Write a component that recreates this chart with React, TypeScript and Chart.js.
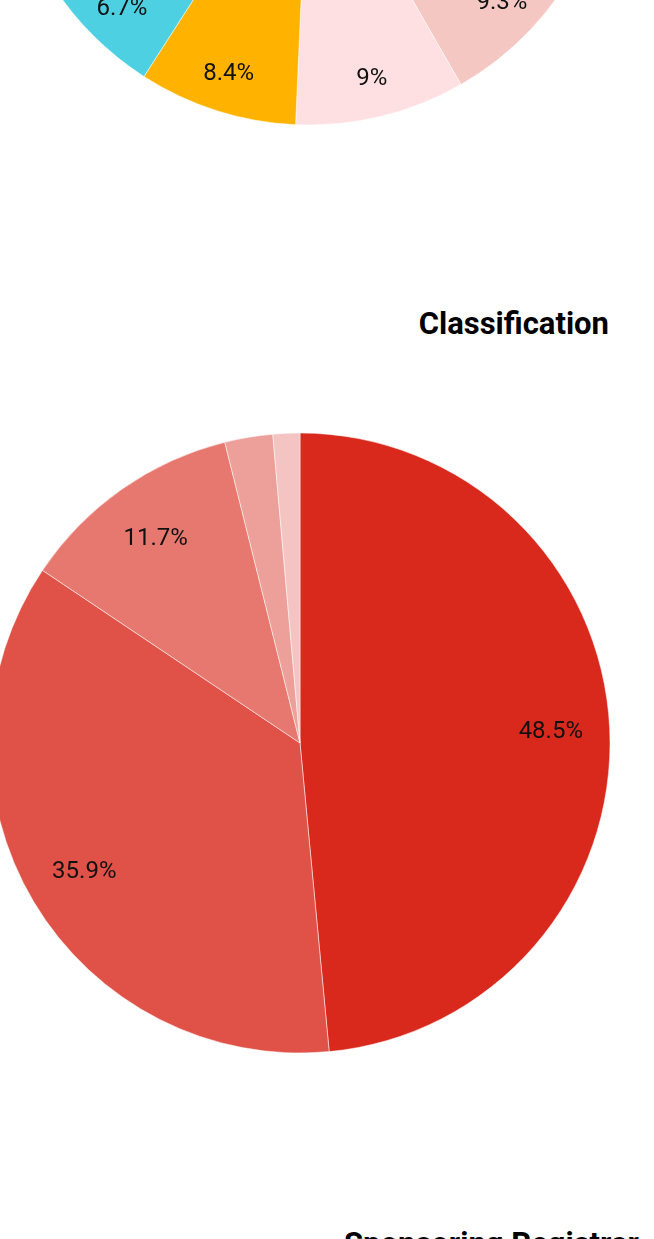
import React, { useEffect, useRef } from "react";
import { Chart, registerables } from "chart.js";

Chart.register(...registerables);

// ---- Data ----
const topCategories = ["United States", "Germany", "United Kingdom", "France", "Canada", "Netherlands", "Japan", "China", "India", "Other"];
const topValues = [14.0, 10.4, 8.0, 9.3, 9.0, 8.4, 6.7, 12.5, 11.2, 10.5];
const topColors = ["#4285F4", "#0F9D58", "#AB47BC", "#F4C7C3", "#FFE0E2", "#FFB300", "#4DD0E1", "#DB4437", "#7986CB", "#9E9E9E"];

const classTitle = "Classification";
const classCategories = ["Registered", "Parked", "Expired", "Reserved", "Other"];
const classValues = [48.5, 35.9, 11.7, 2.5, 1.4];
const classColors = ["#D9291D", "#E05248", "#E77870", "#EDA09A", "#F3C4C1"];

const nextTitle = "Sponsoring Registrar";

const pctLabels = {
  id: "pctLabels",
  afterDatasetsDraw(chart: any, _args: any, opts: any) {
    const ctx = chart.ctx;
    const meta = chart.getDatasetMeta(0);
    const data = chart.data.datasets[0].data as number[];
    ctx.save();
    ctx.font = `${opts.size || 22}px Roboto`;
    ctx.fillStyle = "#111";
    ctx.textAlign = "center";
    ctx.textBaseline = "middle";
    meta.data.forEach((arc: any, i: number) => {
      const v = data[i];
      if (v < (opts.min ?? 5)) return;
      const p = arc.getProps(["x", "y", "startAngle", "endAngle", "outerRadius"], true);
      const mid = (p.startAngle + p.endAngle) / 2;
      const r = p.outerRadius * (opts.frac ?? 0.81);
      ctx.fillText(`${v}%`, p.x + Math.cos(mid) * r, p.y + Math.sin(mid) * r + 1);
    });
    ctx.restore();
  },
};

function PieChart(props: {
  labels: string[];
  values: number[];
  colors: string[];
  radius: number;
  frac: number;
  style: React.CSSProperties;
}) {
  const ref = useRef<HTMLCanvasElement | null>(null);
  useEffect(() => {
    if (!ref.current) return;
    const chart = new Chart(ref.current, {
      type: "pie",
      data: {
        labels: props.labels,
        datasets: [
          {
            data: props.values,
            backgroundColor: props.colors,
            borderColor: "#ffffff",
            borderWidth: 0.5,
          },
        ],
      },
      options: {
        animation: false,
        responsive: true,
        maintainAspectRatio: false,
        radius: props.radius,
        layout: { padding: 0 },
        plugins: {
          legend: { display: false },
          tooltip: { enabled: false },
          title: { display: false },
          pctLabels: { frac: props.frac, size: 24, min: 5 },
        } as any,
      },
      plugins: [pctLabels],
    });
    return () => chart.destroy();
  }, []);
  return (
    <div style={{ position: "absolute", ...props.style }}>
      <canvas ref={ref} />
    </div>
  );
}

export default function App() {
  return (
    <div
      style={{
        position: "absolute",
        left: 0,
        top: 0,
        width: 654,
        height: 1239,
        overflow: "hidden",
        background: "#fff",
        fontFamily: "Roboto, sans-serif",
      }}
    >
      <PieChart
        labels={topCategories}
        values={topValues}
        colors={topColors}
        radius={305}
        frac={0.87}
        style={{ left: -1, top: -490, width: 620, height: 620 }}
      />
      <div
        style={{
          position: "absolute",
          left: 0,
          width: 609,
          top: 308,
          textAlign: "right",
          fontWeight: 700,
          fontSize: 31,
          lineHeight: "31px",
          color: "#000",
          whiteSpace: "nowrap",
        }}
      >
        {classTitle}
      </div>
      <PieChart
        labels={classCategories}
        values={classValues}
        colors={classColors}
        radius={310}
        frac={0.81}
        style={{ left: -12, top: 431, width: 624, height: 624 }}
      />
      <div
        style={{
          position: "absolute",
          left: 344,
          top: 1228,
          fontWeight: 700,
          fontSize: 31,
          lineHeight: "31px",
          color: "#000",
          whiteSpace: "nowrap",
        }}
      >
        {nextTitle}
      </div>
    </div>
  );
}
